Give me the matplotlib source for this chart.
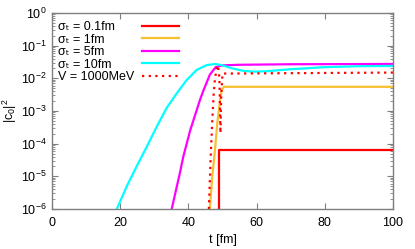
import numpy as np
import matplotlib
matplotlib.use("Agg")
import matplotlib.pyplot as plt
from matplotlib.ticker import LogLocator, NullFormatter

# --- data (t in fm, values are |c0|^2) ---
t_01 = [49.1, 49.1, 100.0]
c_01 = [1e-8, 6.5e-5, 6.5e-5]

t_1 = [46.3, 47.0, 47.8, 48.5, 49.3, 49.8, 50.5, 100.0]
c_1 = [1e-6, 1e-5, 6.5e-5, 4.5e-4, 2.2e-3, 4.6e-3, 5.5e-3, 5.5e-3]

t_5 = [35.1, 37.5, 38.5, 40.5, 43.4, 44.5, 46.3, 48.0, 50.0, 55.0, 70.0, 100.0]
c_5 = [1e-6, 1.26e-5, 4e-5, 2.5e-4, 2.2e-3, 4.5e-3, 1.3e-2, 2.2e-2, 2.5e-2, 2.6e-2, 2.7e-2, 2.75e-2]

t_10 = [19.0, 21.9, 24.8, 27.8, 30.7, 33.6, 36.6, 39.5, 42.4, 45.4, 47.8, 50.0, 53.0,
        56.0, 59.0, 63.0, 70.0, 80.0, 90.0, 100.0]
c_10 = [1e-6, 4.9e-6, 2.0e-5, 8.1e-5, 3.3e-4, 1.23e-3, 3.5e-3, 8.9e-3, 1.8e-2, 2.55e-2,
        2.75e-2, 2.5e-2, 2.0e-2, 1.7e-2, 1.6e-2, 1.65e-2, 1.9e-2, 2.2e-2, 2.35e-2, 2.4e-2]

t_V = [46.0, 46.5, 47.0, 47.4, 47.8, 48.3, 48.7, 49.1, 49.4, 49.6, 50.0, 100.0]
c_V = [1e-6, 3.2e-5, 5e-4, 3.2e-3, 1.0e-2, 2.0e-2, 2.5e-2, 1.0e-2, 2.1e-4, 2.5e-3, 1.4e-2, 1.5e-2]

labels = ["σₜ = 0.1fm", "σₜ = 1fm", "σₜ = 5fm", "σₜ = 10fm", "V = 1000MeV"]
colors = ["#ff0000", "#f8c030", "#ff00ff", "#00ffff", "#ff0000"]

plt.rcParams['font.family'] = ['Liberation Sans', 'DejaVu Sans']
plt.rcParams['mathtext.fontset'] = 'custom'
plt.rcParams['mathtext.rm'] = 'Liberation Sans'
plt.rcParams['mathtext.it'] = 'Liberation Sans:italic'

FS = 9
fig = plt.figure(figsize=(4.15, 2.49), dpi=100)
ax = fig.add_axes([52/415, 1-209/249, (393-52)/415, (209-13)/249])

h = []
h += ax.plot(t_01, c_01, color=colors[0], lw=1.6)
h += ax.plot(t_1, c_1, color=colors[1], lw=1.6)
h += ax.plot(t_5, c_5, color=colors[2], lw=1.6)
h += ax.plot(t_10, c_10, color=colors[3], lw=1.6)
h += ax.plot(t_V, c_V, color=colors[4], lw=1.6, linestyle=(0, (1, 2)))

ax.set_yscale('log')
ax.set_xlim(0, 100)
ax.set_ylim(1e-6, 1)
ax.set_xticks([0, 20, 40, 60, 80, 100])
ax.yaxis.set_major_locator(LogLocator(base=10, numticks=10))
ax.yaxis.set_minor_locator(LogLocator(base=10, subs=np.arange(2, 10), numticks=20))
ax.yaxis.set_minor_formatter(NullFormatter())

for s in ax.spines.values():
    s.set_color('#7f7f7f')
    s.set_linewidth(1.0)
ax.tick_params(which='both', direction='in', top=True, right=True, color='#7f7f7f',
               labelsize=FS, pad=4)
ax.tick_params(axis='x', which='both', pad=6)
ax.tick_params(which='major', length=4)
ax.tick_params(which='minor', length=2)

ax.set_xlabel('t [fm]', fontsize=FS, labelpad=3)
ax.set_ylabel('|c$_0$|$^2$', fontsize=FS, labelpad=1)

top_anchor = 1 - 8/196
common = dict(frameon=False, fontsize=FS, labelspacing=0.05, borderpad=0.0,
              borderaxespad=0.0, loc='upper left')
# legend with the left-aligned texts
legA = ax.legend(h, labels, handlelength=0, handletextpad=0,
                 bbox_to_anchor=(6/341, top_anchor), **common)
for ln in legA.get_lines():
    ln.set_visible(False)
ax.add_artist(legA)
# legend with the line samples only
legB = ax.legend(h, [""] * len(h), handlelength=3.0, handletextpad=0, markerfirst=False,
                 bbox_to_anchor=(6/341, top_anchor), **common)
fig.canvas.draw()
leg_w = legB.get_window_extent().width
xend = (179 - 52) / 341.0  # right end of samples in axes fraction
legB.set_bbox_to_anchor((xend - leg_w / ax.bbox.width, top_anchor), transform=ax.transAxes)

fig.savefig('out.png', dpi=100)
